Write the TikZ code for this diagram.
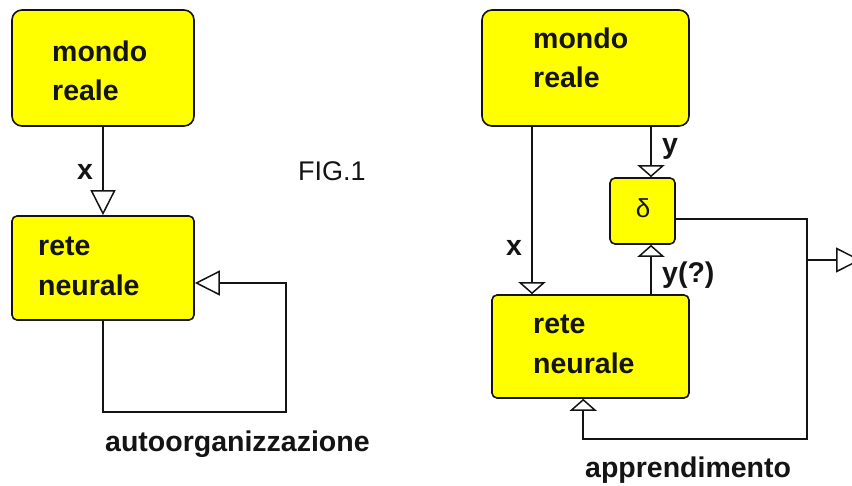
\documentclass[tikz,border=0pt]{standalone}
\usepackage{fontspec}
\setmainfont{Liberation Sans}
\usetikzlibrary{arrows.meta,calc}
\definecolor{boxyellow}{RGB}{255,255,0}
\definecolor{ink}{RGB}{20,20,20}

\begin{document}
\begin{tikzpicture}[x=1pt,y=-1pt,
  box/.style={draw=ink,fill=boxyellow,line width=1.6pt,inner sep=0pt},
  world/.style={box,rounded corners=10pt},
  net/.style={box,rounded corners=5pt},
  txt/.style={anchor=base west,inner sep=0pt,text=ink,font=\fontsize{28.5}{33}\selectfont\bfseries},
  plain/.style={anchor=base west,inner sep=0pt,text=ink,font=\fontsize{27}{32}\selectfont},
  wire/.style={line width=1.6pt,ink},
  bigtip/.style={wire,-{Triangle[open,length=25pt,width=25pt,line width=1.5pt]}},
  flattip/.style={wire,-{Triangle[open,length=12pt,width=27pt,line width=1.5pt]}},
]
\useasboundingbox (0,0) rectangle (852,485);

% ---------- self-organisation loop ----------
\node[world,minimum width=182pt,minimum height=116pt] (LM) at (103,68) {};
\node[net,minimum width=182pt,minimum height=104pt] (LR) at (103,268) {};
\node[txt] (lm1) at (52,61) {mondo};
\node[txt] (lm2) at (52,100) {reale};
\node[txt] (lr1) at (38,255) {rete};
\node[txt] (lr2) at (38,295) {neurale};

\draw[bigtip] (LM.south) -- (LR.north);
\node[txt] (lx) at (77,179) {x};

\coordinate (lfb) at (286,412);
\draw[bigtip] (LR.south) |- (lfb) |- ($(LR.east)+(0,15)$);

\node[plain] (fig) at (298,180) {FIG.1};
\node[txt] (auto) at (105,451) {autoorganizzazione};

% ---------- supervised learning loop ----------
\node[world,minimum width=207pt,minimum height=116pt] (RM) at (585.5,68) {};
\node[net,minimum width=65pt,minimum height=66pt] (D) at (642.5,211) {};
\node[net,minimum width=197pt,minimum height=103pt] (RR) at (590.5,346.5) {};
\node[txt] (rm1) at (533,48) {mondo};
\node[txt] (rm2) at (533,87) {reale};
\node[txt] (rr1) at (533,333) {rete};
\node[txt] (rr2) at (533,373) {neurale};
\node[anchor=base,inner sep=0pt,text=ink,font=\fontsize{26}{30}\selectfont] (dl) at (643,217) {δ};

\coordinate (xcol) at (532,0);
\coordinate (ycol) at (651,0);
\draw[flattip] (RM.south -| xcol) -- (RR.north -| xcol);
\draw[flattip] (RM.south -| ycol) -- (D.north -| ycol);
\draw[flattip] (RR.north -| ycol) -- (D.south -| ycol);
\node[txt] (rx) at (506,255) {x};
\node[txt] (ry) at (662,153) {y};
\node[txt] (ryq) at (662,282) {y(?)};

\coordinate (rfb) at (807,439);
\coordinate (br) at (807,260);
\coordinate (out) at (861,260);
\draw[flattip] ($(D.east)+(0,8)$) -| (rfb) -| ($(RR.south west)+(92,0)$);
\draw[bigtip] (br) -- (out);
\node[txt] (learn) at (585,477) {apprendimento};
\end{tikzpicture}
\end{document}
